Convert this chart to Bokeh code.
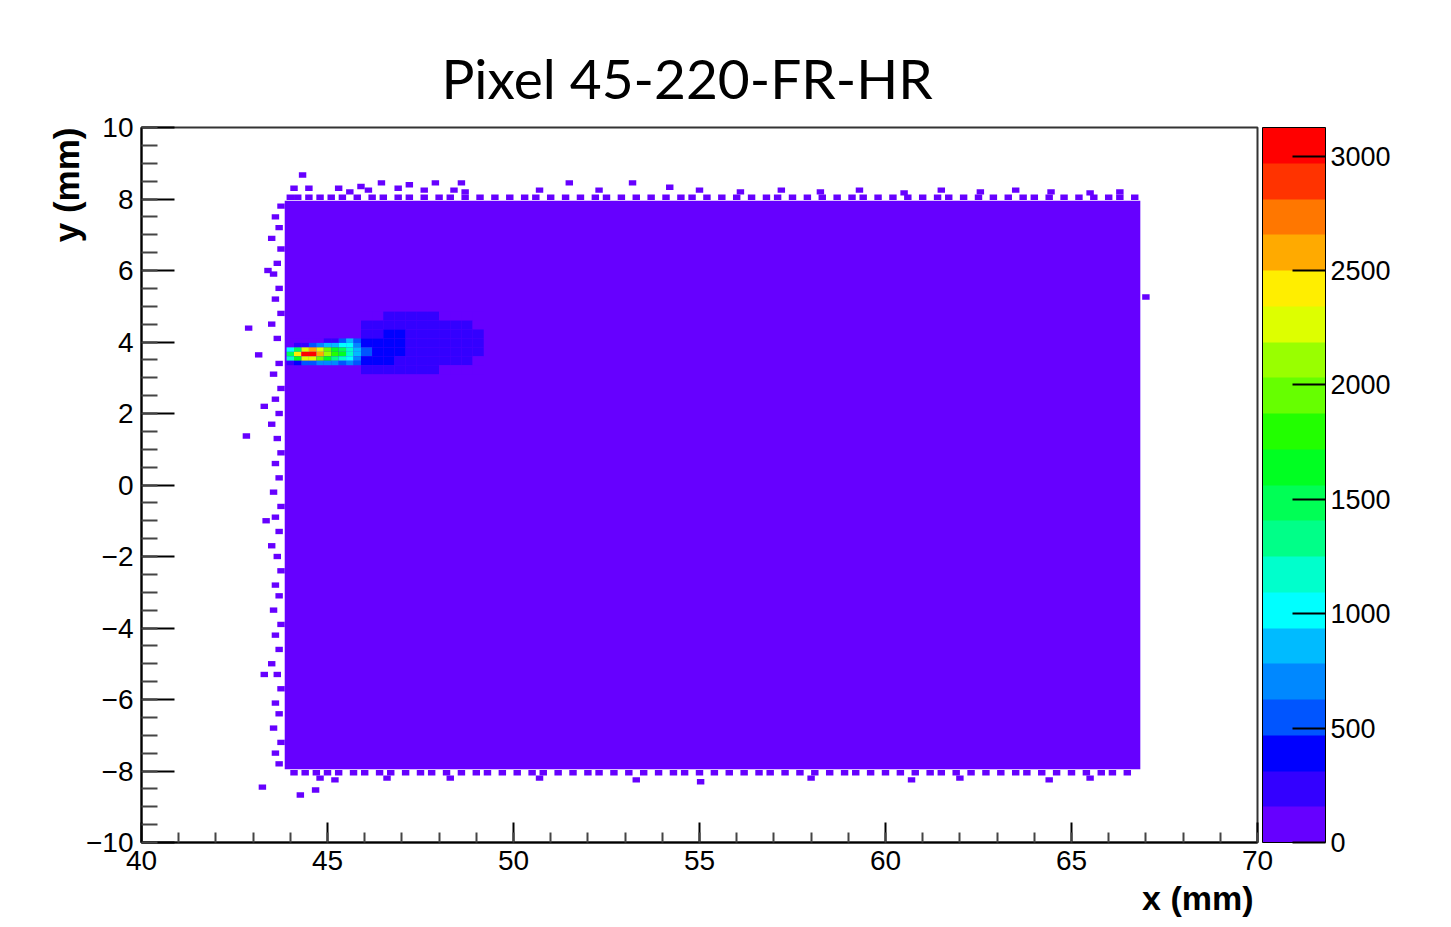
import numpy as np
from bokeh.plotting import figure
from bokeh.models import (ColumnDataSource, LinearColorMapper, ColorBar, FixedTicker,
                          SingleIntervalTicker, Title, Range1d)
from bokeh.transform import transform
from bokeh.embed import file_html
from bokeh.resources import INLINE

TITLE = "Pixel 45-220-FR-HR"
X_LABEL = "x (mm)"
Y_LABEL = "y (mm)"
X_RANGE = (40, 70)
Y_RANGE = (-10, 10)
Z_MAX = 3125
# ROOT-like rainbow palette, 20 contour levels (low -> high)
PALETTE = ["#6600ff", "#3300ff", "#0000ff", "#0055ff", "#0088ff", "#00bbff", "#00ffff",
           "#00ffcc", "#00ff88", "#00ff55", "#00ff22", "#22ff00", "#66ff00", "#99ff00",
           "#ddff00", "#ffee00", "#ffaa00", "#ff7700", "#ff3300", "#ff0000"]
CBAR_TICKS = [0, 500, 1000, 1500, 2000, 2500, 3000]

# uniform bulk of the hit map
BODY_X = [43.85, 66.85]
BODY_Y = [-7.95, 7.95]
BODY_COUNT = 90

# sparse edge bins (centres)
BIN_W, BIN_H = 0.2, 0.15
FRINGE_COUNT = 40
TOP_ROW_Y = 8.05
TOP_ROW_X = [44.0, 44.2, 44.5, 44.8, 45.1, 45.4, 45.8, 46.2, 46.5, 46.9, 47.2, 47.6, 48.0, 48.3, 48.7,
             49.1, 49.5, 49.9, 50.3, 50.6, 51.0, 51.4, 51.8, 52.2, 52.5, 52.9, 53.3, 53.7, 54.1, 54.5,
             54.8, 55.2, 55.6, 56.0, 56.4, 56.8, 57.1, 57.5, 57.9, 58.3, 58.7, 59.1, 59.4, 59.8, 60.2,
             60.6, 61.0, 61.4, 61.7, 62.1, 62.5, 62.9, 63.3, 63.7, 64.0, 64.4, 64.8, 65.2, 65.6, 66.0,
             66.3, 66.7]
BOTTOM_ROW_Y = -8.05
BOTTOM_ROW_X = [44.1, 44.4, 44.7, 45.0, 45.3, 45.7, 46.0, 46.4, 46.7, 47.1, 47.5, 47.8, 48.2, 48.6, 49.0,
                49.3, 49.7, 50.1, 50.5, 50.8, 51.2, 51.6, 52.0, 52.3, 52.7, 53.1, 53.5, 53.9, 54.3, 54.6,
                55.0, 55.4, 55.8, 56.2, 56.6, 56.9, 57.3, 57.7, 58.1, 58.5, 58.9, 59.2, 59.6, 60.0, 60.4,
                60.8, 61.2, 61.5, 61.9, 62.3, 62.7, 63.1, 63.5, 63.8, 64.2, 64.6, 65.0, 65.4, 65.8, 66.1,
                66.5]
LEFT_COL_X = [43.75, 43.6, 43.7, 43.5, 43.75, 43.65, 43.55, 43.7, 43.6, 43.75, 43.5, 43.65,
              43.7, 43.55, 43.75, 43.6, 43.7, 43.5, 43.65, 43.75, 43.6, 43.7, 43.55, 43.75,
              43.6, 43.7, 43.5, 43.65, 43.75, 43.6, 43.7, 43.55, 43.75, 43.6, 43.7, 43.5,
              43.65, 43.75, 43.6, 43.7, 43.55, 43.75, 43.6, 43.7]
LEFT_COL_Y = [7.8, 7.5, 7.2, 6.9, 6.6, 6.2, 5.9, 5.5, 5.2, 4.8, 4.5, 4.1, 3.4, 3.1, 2.7, 2.4, 2.0,
              1.7, 1.3, 0.9, 0.6, 0.2, -0.2, -0.6, -0.9, -1.3, -1.7, -2.0, -2.4, -2.8, -3.1, -3.5,
              -3.9, -4.2, -4.6, -5.0, -5.3, -5.7, -6.1, -6.4, -6.8, -7.2, -7.5, -7.8]
STRAY_X = [44.33, 44.1, 44.5, 45.3, 45.6, 45.9, 46.1, 46.45, 46.9, 47.2, 47.6, 47.9, 48.4, 48.6, 48.7,
           50.7, 51.5, 52.3, 53.2, 54.2, 55.0, 56.1, 57.2, 58.25, 59.3, 60.5, 61.5, 62.55, 63.5, 64.45,
           65.5, 66.3,
           43.4, 42.88, 43.15, 43.3, 42.82, 43.35, 43.3, 43.25,
           44.27, 44.68, 44.8, 45.2, 46.6, 48.3, 50.7, 53.3, 55.03, 58.0, 60.7, 62.0, 64.4, 65.5,
           67.0]
STRAY_Y = [8.67, 8.3, 8.3, 8.3, 8.2, 8.35, 8.25, 8.45, 8.3, 8.4, 8.25, 8.45, 8.25, 8.45, 8.2,
           8.25, 8.45, 8.25, 8.45, 8.33, 8.25, 8.2, 8.25, 8.2, 8.25, 8.17, 8.25, 8.2, 8.25, 8.2,
           8.17, 8.2,
           6.0, 4.39, 3.64, 2.2, 1.37, -1.0, -5.3, -8.45,
           -8.67, -8.53, -8.2, -8.25, -8.2, -8.2, -8.2, -8.25, -8.3, -8.2, -8.25, -8.2, -8.25, -8.2,
           5.26]

# diffuse cloud downstream of the hot streak
CLOUD_W, CLOUD_H = 0.3, 0.25
CLOUD_X = [46.05, 46.35, 46.65, 46.95, 47.25, 47.55, 47.85, 48.15, 48.45, 48.75, 49.05]
CLOUD_Y = [4.725, 4.475, 4.225, 3.975, 3.725, 3.475, 3.225]
CLOUD_COUNTS = [
    [100, 100, 160, 170, 180, 170, 160, 100, 100, 100, 100],
    [170, 200, 230, 250, 260, 250, 230, 200, 170, 160, 100],
    [250, 300, 330, 320, 300, 290, 270, 240, 210, 180, 160],
    [360, 380, 350, 330, 310, 300, 280, 250, 220, 190, 160],
    [560, 420, 370, 340, 310, 290, 270, 240, 210, 180, 160],
    [380, 340, 320, 300, 280, 260, 230, 200, 180, 160, 100],
    [180, 200, 210, 200, 190, 170, 160, 100, 100, 100, 100],
]

# hot streak
STREAK_W, STREAK_H = 0.2, 0.125
STREAK_X = [44.0, 44.2, 44.4, 44.6, 44.8, 45.0, 45.2, 45.4, 45.6, 45.8]
STREAK_Y = [4.0375, 3.9125, 3.7875, 3.6625, 3.5375, 3.4125]
STREAK_COUNTS = [
    [100, 100, 100, 100, 150, 200, 300, 500, 800, 600],
    [100, 200, 300, 500, 700, 800, 900, 1000, 1050, 750],
    [1000, 1500, 2300, 2600, 2200, 1900, 1700, 1500, 1100, 800],
    [1500, 2400, 3050, 3100, 2500, 2100, 1800, 1600, 1150, 850],
    [1100, 1600, 2200, 2300, 1900, 1600, 1400, 1200, 1000, 700],
    [200, 350, 500, 600, 700, 700, 650, 600, 700, 500],
]


def grid_source(xs, ys, counts, w, h):
    L, R, T, B, C = [], [], [], [], []
    for j, yc in enumerate(ys):
        for i, xc in enumerate(xs):
            L.append(xc - w / 2); R.append(xc + w / 2)
            B.append(yc - h / 2); T.append(yc + h / 2)
            C.append(counts[j][i])
    return ColumnDataSource(dict(left=L, right=R, top=T, bottom=B, count=C))


def cell_source(xs, ys, count, w, h):
    xs = np.asarray(xs, dtype=float); ys = np.asarray(ys, dtype=float)
    return ColumnDataSource(dict(left=xs - w / 2, right=xs + w / 2, bottom=ys - h / 2,
                                 top=ys + h / 2, count=[count] * len(xs)))


mapper = LinearColorMapper(palette=PALETTE, low=0, high=Z_MAX)

p = figure(width=1451, height=927, output_backend="svg", toolbar_location=None,
           x_range=Range1d(*X_RANGE), y_range=Range1d(*Y_RANGE),
           min_border_left=141, min_border_right=194, min_border_top=127, min_border_bottom=85)
p.background_fill_color = "white"
p.border_fill_color = "white"
p.grid.visible = False
p.outline_line_color = "#333333"
p.outline_line_width = 2

body = ColumnDataSource(dict(left=[BODY_X[0]], right=[BODY_X[1]], bottom=[BODY_Y[0]],
                             top=[BODY_Y[1]], count=[BODY_COUNT]))
sources = [
    body,
    cell_source(TOP_ROW_X, [TOP_ROW_Y] * len(TOP_ROW_X), FRINGE_COUNT, BIN_W, BIN_H),
    cell_source(BOTTOM_ROW_X, [BOTTOM_ROW_Y] * len(BOTTOM_ROW_X), FRINGE_COUNT, BIN_W, BIN_H),
    cell_source(LEFT_COL_X, LEFT_COL_Y, FRINGE_COUNT, BIN_W, BIN_H),
    cell_source(STRAY_X, STRAY_Y, FRINGE_COUNT, BIN_W, BIN_H),
    grid_source(CLOUD_X, CLOUD_Y, CLOUD_COUNTS, CLOUD_W, CLOUD_H),
    grid_source(STREAK_X, STREAK_Y, STREAK_COUNTS, STREAK_W, STREAK_H),
]
for src in sources:
    p.quad(left="left", right="right", top="top", bottom="bottom", source=src,
           fill_color=transform("count", mapper), line_color=None)

# axes
label_font = "Liberation Sans"
for ax in (p.xaxis[0], p.yaxis[0]):
    ax.axis_line_color = "black"
    ax.axis_line_width = 2
    ax.major_tick_line_color = "black"
    ax.minor_tick_line_color = "#444444"
    ax.major_tick_line_width = 2
    ax.minor_tick_line_width = 2
    ax.major_tick_out = 0
    ax.minor_tick_out = 0
    ax.major_label_text_font = label_font
    ax.major_label_text_font_size = "28px"
    ax.major_label_text_color = "black"
    ax.major_label_standoff = 8

p.xaxis[0].ticker = SingleIntervalTicker(interval=5, num_minor_ticks=5)
p.yaxis[0].ticker = SingleIntervalTicker(interval=2, num_minor_ticks=4)
p.xaxis[0].major_tick_in = 20
p.xaxis[0].minor_tick_in = 10
p.yaxis[0].major_tick_in = 33
p.yaxis[0].minor_tick_in = 16
p.yaxis[0].major_label_overrides = {v: ("\u2212" + str(-v) if v < 0 else str(v)) for v in range(-10, 11, 2)}

cbar = ColorBar(color_mapper=mapper, width=63, padding=0, margin=0, location=(5, 0),
                ticker=FixedTicker(ticks=CBAR_TICKS),
                major_tick_in=33, major_tick_out=0, major_tick_line_color="black",
                major_tick_line_width=2, minor_tick_line_color=None,
                major_label_text_font=label_font, major_label_text_font_size="27px",
                major_label_text_color="black", label_standoff=5,
                bar_line_color="black", bar_line_width=1,
                border_line_color=None, background_fill_color=None)
p.add_layout(cbar, "right")

p.add_layout(Title(text=TITLE, align="left", offset=300, standoff=34,
                   text_font="Lato", text_font_size="55px", text_font_style="normal",
                   text_color="black"), "above")
p.add_layout(Title(text=X_LABEL, align="right", offset=4, standoff=8,
                   text_font=label_font, text_font_size="34px", text_font_style="bold",
                   text_color="black"), "below")
p.add_layout(Title(text=Y_LABEL, align="right", standoff=-5,
                   text_font=label_font, text_font_size="35px", text_font_style="bold",
                   text_color="black"), "left")

open("out.html", "w").write(file_html(p, INLINE))
